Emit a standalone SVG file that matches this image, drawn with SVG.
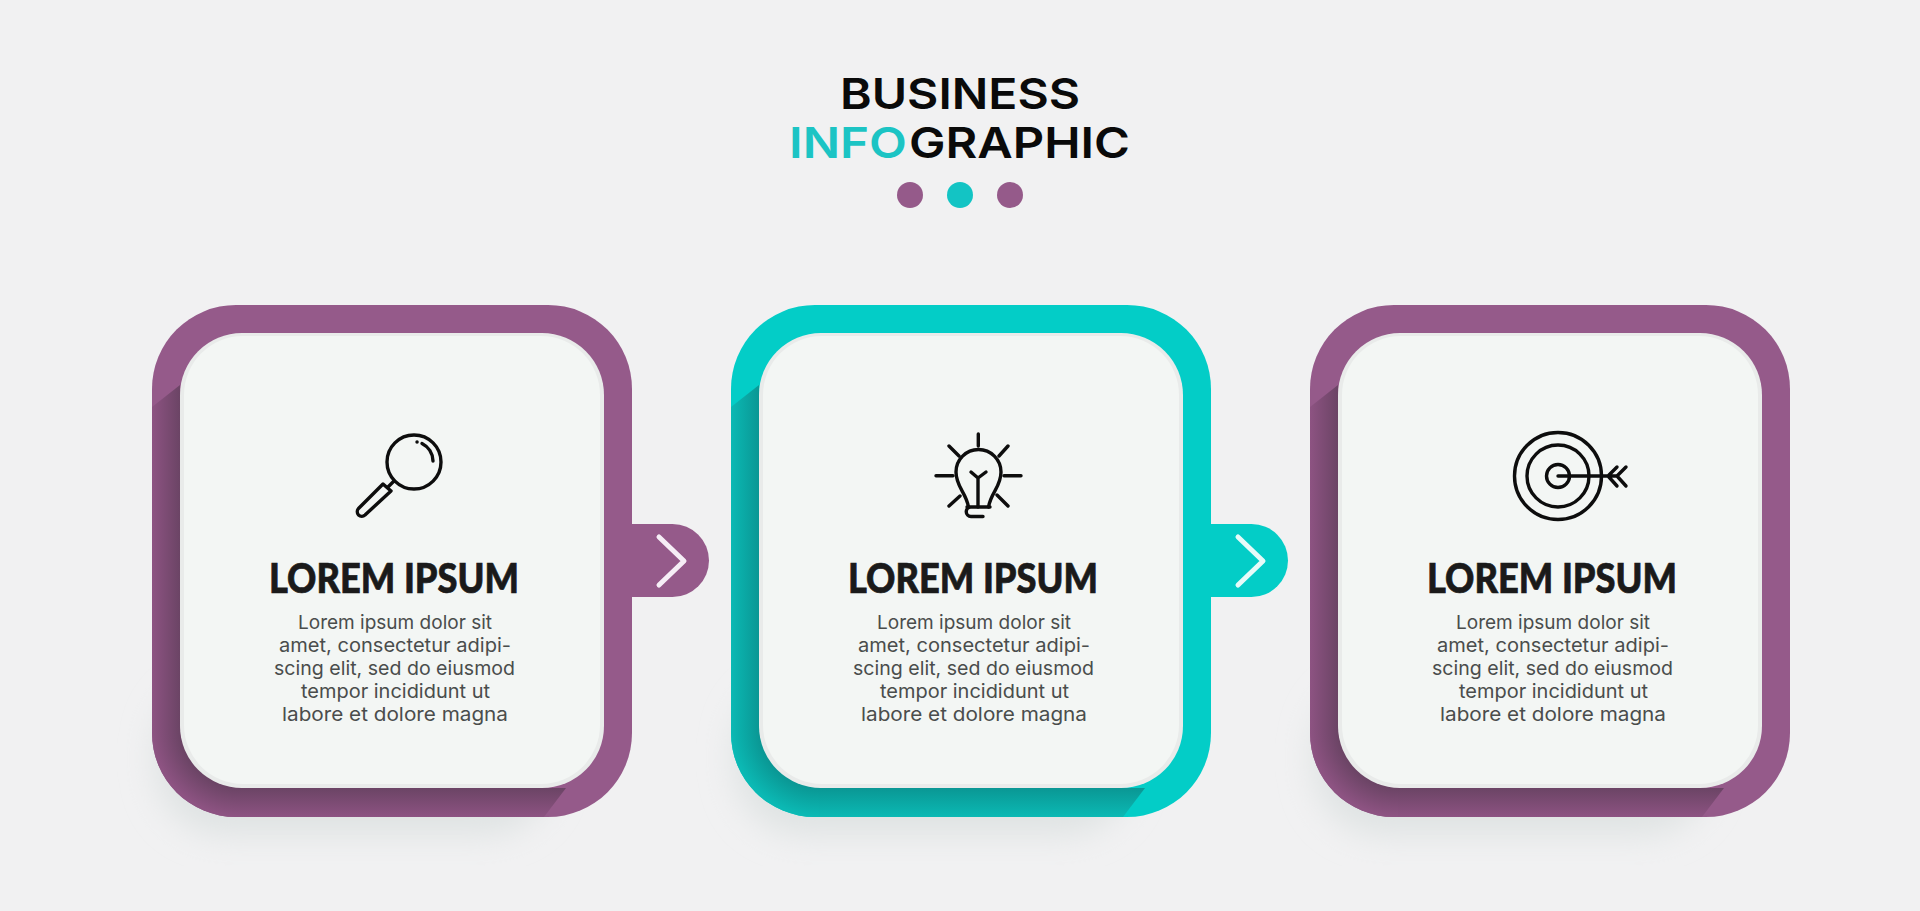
<svg xmlns="http://www.w3.org/2000/svg" width="1920" height="911" viewBox="0 0 1920 911">
<style>
.t{font-family:"Inter","Liberation Sans",sans-serif;font-weight:600;font-size:43px;fill:#0a0a0a}
.teal{fill:#1cc4c4}
.h{font-family:"Lato","Liberation Sans",sans-serif;font-weight:900;font-size:41px;fill:#1a1a1a;stroke:#1a1a1a;stroke-width:.7}
.b{font-family:"Inter","Liberation Sans",sans-serif;font-weight:400;font-size:19px;fill:#4a4d4c}
.ic{fill:none;stroke:#0d0d0d;stroke-width:3.4;stroke-linecap:round;stroke-linejoin:round}
.chev{fill:none;stroke-width:5;stroke-linecap:round;stroke-linejoin:round}
.edge{fill:#e9ebea}.face{fill:#f3f6f4}
</style>
<defs>
<filter id="soft" x="-20%" y="-20%" width="140%" height="140%"><feGaussianBlur stdDeviation="16"/></filter>
<clipPath id="outerClip"><rect x="152" y="305" width="480" height="512" rx="84"/></clipPath>
<linearGradient id="pL" gradientUnits="userSpaceOnUse" x1="152" y1="0" x2="180" y2="0"><stop offset="0" stop-color="#8d5382"/><stop offset="1" stop-color="#6b4465"/></linearGradient>
<linearGradient id="pB" gradientUnits="userSpaceOnUse" x1="0" y1="788" x2="0" y2="817"><stop offset="0" stop-color="#6b4465"/><stop offset="1" stop-color="#8d5382"/></linearGradient>
<radialGradient id="pC" gradientUnits="userSpaceOnUse" cx="240" cy="728" r="88"><stop offset=".68" stop-color="#6b4465"/><stop offset="1" stop-color="#8d5382"/></radialGradient>
<linearGradient id="tL" gradientUnits="userSpaceOnUse" x1="152" y1="0" x2="180" y2="0"><stop offset="0" stop-color="#0bb9b4"/><stop offset="1" stop-color="#0a9794"/></linearGradient>
<linearGradient id="tB" gradientUnits="userSpaceOnUse" x1="0" y1="788" x2="0" y2="817"><stop offset="0" stop-color="#0a9794"/><stop offset="1" stop-color="#0bb9b4"/></linearGradient>
<radialGradient id="tC" gradientUnits="userSpaceOnUse" cx="240" cy="728" r="88"><stop offset=".68" stop-color="#0a9794"/><stop offset="1" stop-color="#0bb9b4"/></radialGradient>
<g id="copy">
<text class="h" x="269" y="593" textLength="250" lengthAdjust="spacingAndGlyphs">LOREM IPSUM</text>
<text class="b" x="298" y="629" textLength="194" lengthAdjust="spacingAndGlyphs">Lorem ipsum dolor sit</text>
<text class="b" x="279" y="652" textLength="232" lengthAdjust="spacingAndGlyphs">amet, consectetur adipi-</text>
<text class="b" x="274" y="675" textLength="241" lengthAdjust="spacingAndGlyphs">scing elit, sed do eiusmod</text>
<text class="b" x="301" y="698" textLength="189" lengthAdjust="spacingAndGlyphs">tempor incididunt ut</text>
<text class="b" x="282" y="721" textLength="226" lengthAdjust="spacingAndGlyphs">labore et dolore magna</text>
</g>
</defs>
<rect width="1920" height="911" fill="#f1f1f2"/>
<g id="title">
<text class="t" x="840" y="109" textLength="240" lengthAdjust="spacingAndGlyphs">BUSINESS</text>
<text class="t" y="158"><tspan class="teal" x="789" textLength="118" lengthAdjust="spacingAndGlyphs">INFO</tspan></text>
<text class="t" x="909" y="158" textLength="221" lengthAdjust="spacingAndGlyphs">GRAPHIC</text>
<circle cx="910" cy="195" r="13" fill="#955a8a"/><circle cx="960" cy="195" r="13" fill="#13c4c4"/><circle cx="1010" cy="195" r="13" fill="#955a8a"/>
</g>
<g id="connectors">
<g id="connector-1"><path d="M625 524H672.500a36.500 36.500 0 0 1 0 73H625Z" fill="#955a8a"/><path class="chev" d="M659 537l25 24-25 24" stroke="#f6eef6"/></g>
<g id="connector-2"><path d="M1204 524H1251.500a36.500 36.500 0 0 1 0 73H1204Z" fill="#03cdc7"/><path class="chev" d="M1238 537l25 24-25 24" stroke="#e6fbf9"/></g>
</g>
<g id="node-1">
<rect x="155" y="680" width="400" height="155" rx="70" fill="#dfe3e3" filter="url(#soft)"/>
<rect x="152" y="305" width="480" height="512" rx="84" fill="#955a8a"/>
<g clip-path="url(#outerClip)">
<path d="M152 407L180 385V728H152Z" fill="url(#pL)"/>
<rect x="152" y="728" width="88" height="89" fill="url(#pC)"/>
<path d="M240 788H566L544 817H240Z" fill="url(#pB)"/>
</g>
<rect class="edge" x="180" y="333" width="424" height="455" rx="62"/>
<rect class="face" x="184" y="336" width="416" height="448" rx="59"/>
<g class="ic"><circle cx="414" cy="462" r="27"/><path d="M394 481L388 487"/><path d="M383 484L358.500 508.500a5 5 0 0 0 0 6.500 5 5 0 0 0 6.500 0L391 491L383 484Z"/><path d="M422 443.500A20 20 0 0 1 433 461"/><path d="M417 442L417.100 442"/></g>
<use href="#copy"/>
</g>
<g id="node-2" transform="translate(579 0)">
<rect x="155" y="680" width="400" height="155" rx="70" fill="#dfe3e3" filter="url(#soft)"/>
<rect x="152" y="305" width="480" height="512" rx="84" fill="#03cdc7"/>
<g clip-path="url(#outerClip)">
<path d="M152 407L180 385V728H152Z" fill="url(#tL)"/>
<rect x="152" y="728" width="88" height="89" fill="url(#tC)"/>
<path d="M240 788H566L544 817H240Z" fill="url(#tB)"/>
</g>
<rect class="edge" x="180" y="333" width="424" height="455" rx="62"/>
<rect class="face" x="184" y="336" width="416" height="448" rx="59"/>
<g class="ic" transform="translate(-579 0)"><path d="M978.300 434V446M936 475.700H953M1004 475.700H1021M949 446L959 456M1008 446L999 456M949 506L960 496M1008 506L997 495"/><path d="M968.500 507C966 492 956 487 956 472A22.500 22.500 0 0 1 1001 472C1001 487 991 492 988.500 507"/><path d="M967 507H990H971a3.500 3.500 0 0 0 0 9.500H983"/><path d="M978 478V507M971 472L978 478L986 472"/></g>
<use href="#copy"/>
</g>
<g id="node-3" transform="translate(1158 0)">
<rect x="155" y="680" width="400" height="155" rx="70" fill="#dfe3e3" filter="url(#soft)"/>
<rect x="152" y="305" width="480" height="512" rx="84" fill="#955a8a"/>
<g clip-path="url(#outerClip)">
<path d="M152 407L180 385V728H152Z" fill="url(#pL)"/>
<rect x="152" y="728" width="88" height="89" fill="url(#pC)"/>
<path d="M240 788H566L544 817H240Z" fill="url(#pB)"/>
</g>
<rect class="edge" x="180" y="333" width="424" height="455" rx="62"/>
<rect class="face" x="184" y="336" width="416" height="448" rx="59"/>
<g class="ic" transform="translate(-1158 0)"><circle cx="1558" cy="476" r="43.500"/><circle cx="1558" cy="476" r="31"/><circle cx="1558" cy="476" r="11.500"/><path d="M1558 476H1616M1617 467L1608 476L1617 486M1626 467L1617 476L1626 486"/></g>
<use href="#copy"/>
</g>
</svg>
